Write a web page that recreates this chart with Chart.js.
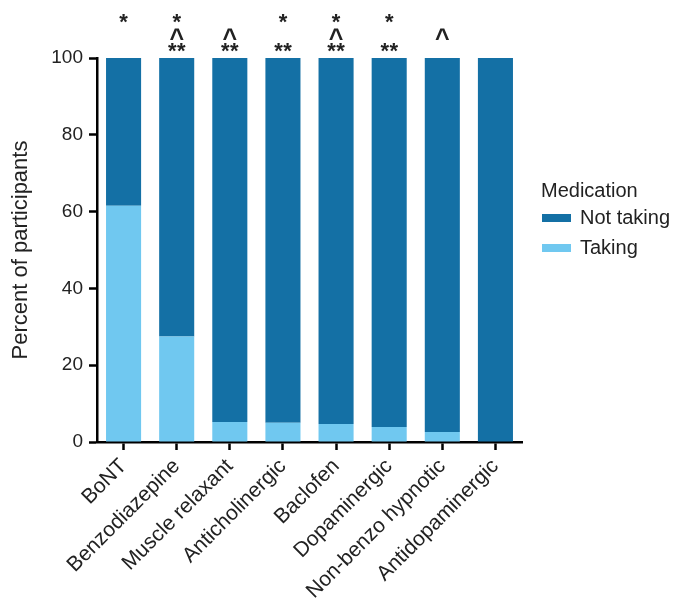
<!DOCTYPE html>
<html><head><meta charset="utf-8">
<script src="https://cdn.jsdelivr.net/npm/chart.js@4"></script>
<style>html,body{margin:0;padding:0;background:#fff}#wrap{width:673px;height:601px;position:relative}</style>
</head><body><div id="wrap"><canvas id="c"></canvas></div>
<script>
const categories = ['BoNT','Benzodiazepine','Muscle relaxant','Anticholinergic','Baclofen','Dopaminergic','Non-benzo hypnotic','Antidopaminergic'];
const takingValues = [61.5, 27.5, 5.2, 5.0, 4.7, 3.9, 2.6, 0];
const notTakingValues = [38.5, 72.5, 94.8, 95.0, 95.3, 96.1, 97.4, 100];
const sigSingle = ['*','*','','*','*','*','',''];
const sigCaret = ['','^','^','','^','','^',''];
const sigDouble = ['','**','**','**','**','**','',''];
const legendTitle = 'Medication';
const yTitle = 'Percent of participants';

const DARK = '#1470A5';
const LIGHT = '#70C8F0';
const FONT = "'Liberation Sans', Arial, sans-serif";

const annotPlugin = {
  id: 'annot',
  afterDatasetsDraw(chart) {
    const ctx = chart.ctx;
    const xs = chart.scales.x, ys = chart.scales.y;
    const top = ys.getPixelForValue(100);
    ctx.save();
    ctx.fillStyle = '#222';
    ctx.textAlign = 'center';
    ctx.textBaseline = 'alphabetic';
    categories.forEach((c, i) => {
      const x = xs.getPixelForValue(i);
      ctx.font = 'bold 22px ' + FONT;
      if (sigDouble[i]) {
        const n = sigDouble[i].length;
        for (let k = 0; k < n; k++) ctx.fillText('*', x + (k - (n - 1) / 2) * 9, top);
      }
      if (sigSingle[i]) ctx.fillText(sigSingle[i], x, top - 29);
      ctx.font = 'bold 25px ' + FONT;
      if (sigCaret[i]) ctx.fillText(sigCaret[i], x, top - 11);
    });
    ctx.restore();
  }
};

const legendPlugin = {
  id: 'customLegend',
  afterDraw(chart) {
    const ctx = chart.ctx;
    ctx.save();
    ctx.fillStyle = '#222';
    ctx.font = '20px ' + FONT;
    ctx.textAlign = 'left';
    ctx.textBaseline = 'middle';
    ctx.fillText(legendTitle, 541, 191);
    const ds = chart.data.datasets.slice().reverse();
    ds.forEach((d, i) => {
      const y = 218 + i * 30;
      ctx.fillStyle = d.backgroundColor;
      ctx.fillRect(542, y - 4, 29, 8);
      ctx.fillStyle = '#222';
      ctx.fillText(d.label, 580, y);
    });
    ctx.restore();
  }
};

new Chart(document.getElementById('c'), {
  type: 'bar',
  data: {
    labels: categories,
    datasets: [
      { label: 'Taking', data: takingValues, backgroundColor: LIGHT, borderWidth: 0, barPercentage: 0.66, categoryPercentage: 1 },
      { label: 'Not taking', data: notTakingValues, backgroundColor: DARK, borderWidth: 0, barPercentage: 0.66, categoryPercentage: 1 }
    ]
  },
  options: {
    responsive: true,
    maintainAspectRatio: false,
    animation: false,
    layout: { padding: { top: 58, right: 151, left: 0, bottom: 0 } },
    plugins: { legend: { display: false }, tooltip: { enabled: false } },
    scales: {
      x: {
        stacked: true,
        offset: true,
        grid: { display: true, drawOnChartArea: false, drawTicks: true, tickLength: 8, tickWidth: 2.5, tickColor: '#000', offset: false },
        border: { color: '#000', width: 2.5 },
        ticks: { font: { size: 21, family: FONT }, color: '#222', maxRotation: 45, minRotation: 45, padding: 4, autoSkip: false },
        afterFit: s => { s.height = 159; }
      },
      y: {
        stacked: true,
        min: 0, max: 100,
        grid: { display: true, drawOnChartArea: false, drawTicks: true, tickLength: 8, tickWidth: 2.5, tickColor: '#000' },
        border: { color: '#000', width: 2.5 },
        ticks: { stepSize: 20, font: { size: 19, family: FONT }, color: '#222', padding: 6 },
        title: { display: true, text: yTitle, font: { size: 22, family: FONT }, color: '#222', padding: { top: 8, bottom: 0 } },
        afterFit: s => { s.width = 97; }
      }
    }
  },
  plugins: [annotPlugin, legendPlugin]
});
</script>
</body></html>
